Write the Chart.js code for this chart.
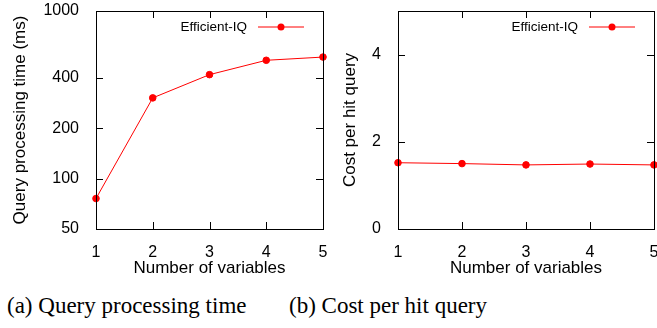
<!DOCTYPE html>
<html>
<head>
<meta charset="utf-8">
<script src="https://cdn.jsdelivr.net/npm/chart.js@4"></script>
<style>
  html, body { margin: 0; padding: 0; background: #fff; }
  body { width: 657px; height: 328px; position: relative; overflow: hidden; }
  .panel { position: absolute; top: 0; height: 280px; overflow: hidden; }
  #left { left: 0; width: 330px; }
  #right { left: 330px; width: 327px; }
  .cap { position: absolute; top: 291px; font-family: "Liberation Serif", serif; font-size: 23px; line-height: 30px; color: #000; white-space: nowrap; }
</style>
</head>
<body>
<div class="panel" id="left"><canvas id="timeChart" width="345" height="280"></canvas></div>
<div class="panel" id="right"><canvas id="costChart" width="345" height="280"></canvas></div>
<div class="cap" style="left:7px">(a) Query processing time</div>
<div class="cap" style="left:289px">(b) Cost per hit query</div>
<script>
const variables = ["1", "2", "3", "4", "5"];
const queryTime = [76, 303, 417, 508, 531];
const costPerHit = [1.52, 1.50, 1.47, 1.49, 1.47];
const timeTicks = [50, 100, 200, 400, 1000];
const costTicks = [0, 2, 4];
const seriesName = "Efficient-IQ";

const sans = "'Liberation Sans', Arial, sans-serif";

// gnuplot look: closed box, inward ticks on all sides, legend inside top right
const boxPlugin = {
    id: "box",
    afterDraw(chart) {
        const ctx = chart.ctx;
        const a = chart.chartArea;
        const xs = chart.scales.x, ys = chart.scales.y;
        const tl = 7;
        ctx.save();
        ctx.strokeStyle = "#000";
        ctx.lineWidth = 1;
        ctx.beginPath();
        ys.ticks.forEach(t => {
            const y = Math.round(ys.getPixelForValue(t.value)) + 0.5;
            ctx.moveTo(a.left, y); ctx.lineTo(a.left + tl, y);
            ctx.moveTo(a.right, y); ctx.lineTo(a.right - tl, y);
        });
        xs.ticks.forEach((t, i) => {
            const x = Math.round(xs.getPixelForTick(i)) + 0.5;
            ctx.moveTo(x, a.top); ctx.lineTo(x, a.top + tl);
            ctx.moveTo(x, a.bottom); ctx.lineTo(x, a.bottom - tl);
        });
        ctx.stroke();
        ctx.strokeRect(Math.round(a.left) + 0.5, Math.round(a.top) + 0.5,
            Math.round(a.right - a.left), Math.round(a.bottom - a.top));

        // legend
        const ds = chart.data.datasets[0];
        const ly = a.top + 16;
        const x1 = a.right - 65, x2 = a.right - 19;
        ctx.strokeStyle = ds.borderColor;
        ctx.beginPath();
        ctx.moveTo(x1, ly); ctx.lineTo(x2, ly);
        ctx.stroke();
        ctx.fillStyle = ds.pointBackgroundColor;
        ctx.beginPath();
        ctx.arc((x1 + x2) / 2, ly, 3.5, 0, Math.PI * 2);
        ctx.fill();
        ctx.fillStyle = "#000";
        ctx.font = "13.5px " + sans;
        ctx.textAlign = "right";
        ctx.textBaseline = "middle";
        ctx.fillText(ds.label, a.right - 76, ly);
        ctx.restore();
    }
};

function makeChart(id, values, yScale, yTitle, yWidth, rightPad) {
    return new Chart(document.getElementById(id), {
        type: "line",
        data: {
            labels: variables,
            datasets: [{
                label: seriesName,
                data: values,
                borderColor: "#ff0000",
                backgroundColor: "#ff0000",
                pointBackgroundColor: "#ff0000",
                pointBorderColor: "#ff0000",
                borderWidth: 1,
                pointRadius: 3.3,
                tension: 0,
            }],
        },
        options: {
            responsive: false,
            animation: false,
            layout: { padding: { top: 11, right: rightPad, left: 0, bottom: 0 } },
            plugins: { legend: { display: false }, tooltip: { enabled: false } },
            scales: {
                x: {
                    offset: false,
                    grid: { display: false },
                    border: { display: false },
                    ticks: { color: "#000", font: { family: sans, size: 16 }, padding: 6, maxRotation: 0 },
                    title: { display: true, text: "Number of variables", color: "#000", font: { family: sans, size: 17 }, padding: { top: 4, bottom: 1 } },
                    afterFit(s) { s.height = 51; s.paddingLeft = 0; s.paddingRight = 0; },
                },
                y: Object.assign({
                    grid: { display: false },
                    border: { display: false },
                    ticks: { color: "#000", font: { family: sans, size: 16 }, padding: 9, callback: v => String(v) },
                    title: { display: true, text: yTitle, color: "#000", font: { family: sans, size: 17 }, padding: { top: 10, bottom: 0 } },
                    afterFit(s) { s.width = yWidth; s.paddingTop = 0; s.paddingBottom = 0; },
                }, yScale),
            },
        },
        plugins: [boxPlugin],
    });
}

makeChart("timeChart", queryTime, {
    type: "logarithmic",
    min: 50,
    max: 1000,
    afterBuildTicks(s) { s.ticks = timeTicks.map(v => ({ value: v })); },
}, "Query processing time (ms)", 96, 22);

makeChart("costChart", costPerHit, {
    type: "linear",
    min: 0,
    max: 5,
    afterBuildTicks(s) { s.ticks = costTicks.map(v => ({ value: v })); },
}, "Cost per hit query", 68, 21);
</script>
</body>
</html>
